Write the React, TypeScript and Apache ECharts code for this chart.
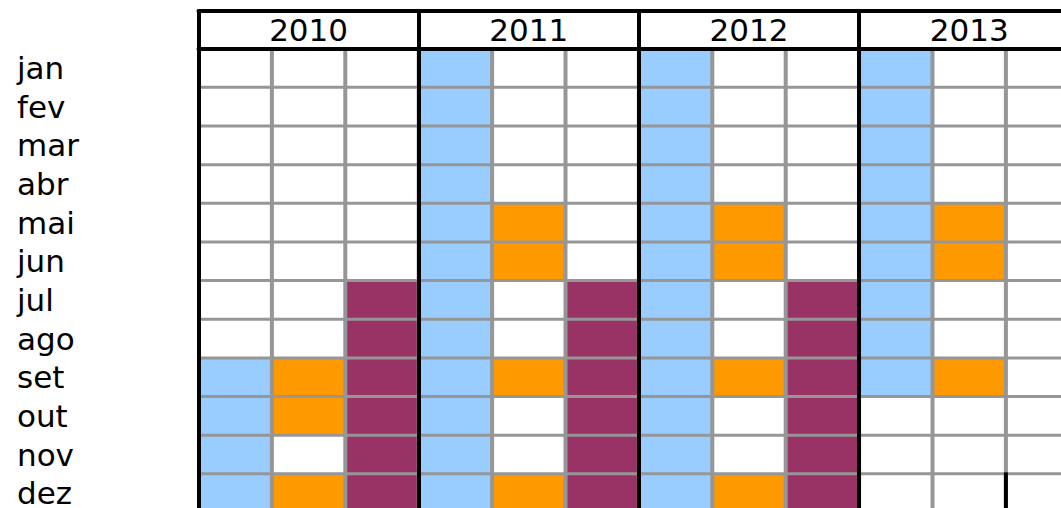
import React, { useEffect, useRef } from "react";
import * as echarts from "echarts";

const months = ["jan", "fev", "mar", "abr", "mai", "jun", "jul", "ago", "set", "out", "nov", "dez"];
const years = ["2010", "2011", "2012", "2013"];
const subColumns = ["a", "b", "c"];

// flags per year (2010..2013), one per month jan..dez
const blueFlags = [
  [0, 0, 0, 0, 0, 0, 0, 0, 1, 1, 1, 1],
  [1, 1, 1, 1, 1, 1, 1, 1, 1, 1, 1, 1],
  [1, 1, 1, 1, 1, 1, 1, 1, 1, 1, 1, 1],
  [1, 1, 1, 1, 1, 1, 1, 1, 1, 0, 0, 0],
];
const orangeFlags = [
  [0, 0, 0, 0, 0, 0, 0, 0, 1, 1, 0, 1],
  [0, 0, 0, 0, 1, 1, 0, 0, 1, 0, 0, 1],
  [0, 0, 0, 0, 1, 1, 0, 0, 1, 0, 0, 1],
  [0, 0, 0, 0, 1, 1, 0, 0, 1, 0, 0, 0],
];
const maroonFlags = [
  [0, 0, 0, 0, 0, 0, 1, 1, 1, 1, 1, 1],
  [0, 0, 0, 0, 0, 0, 1, 1, 1, 1, 1, 1],
  [0, 0, 0, 0, 0, 0, 1, 1, 1, 1, 1, 1],
  [0, 0, 0, 0, 0, 0, 0, 0, 0, 0, 0, 0],
];
// a cell whose right edge is drawn black: [column index, month index]
const blackRightEdges = [[10, 11]];

const palette = ["#FFFFFF", "#99CCFF", "#FF9900", "#993366"];

export default function App() {
  const ref = useRef<HTMLDivElement>(null);

  useEffect(() => {
    if (!ref.current) return;
    const chart = echarts.init(ref.current, null, { renderer: "svg" });

    const columns: string[] = [];
    years.forEach((y) => subColumns.forEach((s) => columns.push(y + s)));

    const cells: number[][] = [];
    const flagSets = [blueFlags, orangeFlags, maroonFlags];
    years.forEach((_, yi) => {
      flagSets.forEach((flags, k) => {
        months.forEach((_, mi) => {
          cells.push([yi * 3 + k, mi, flags[yi][mi] ? k + 1 : 0]);
        });
      });
    });

    const font = "DejaVu Sans";

    chart.setOption({
      animation: false,
      grid: {
        left: 198.5,
        top: 48.7,
        width: 880.8,
        height: 463.8,
        outerBoundsMode: "none",
        containLabel: false,
        show: true,
        backgroundColor: "#969696",
        borderWidth: 0,
      },
      xAxis: [
        {
          type: "category",
          data: columns,
          position: "bottom",
          show: false,
        },
        {
          type: "category",
          data: years,
          position: "top",
          z: 10,
          axisLine: { show: true, lineStyle: { color: "#000", width: 4 } },
          axisTick: {
            show: true,
            interval: 0,
            length: 38.2,
            lineStyle: { color: "#000", width: 4 },
          },
          splitLine: { show: true, interval: 0, lineStyle: { color: "#000", width: 4 } },
          axisLabel: {
            interval: 0,
            margin: 19,
            verticalAlign: "middle",
            fontFamily: font,
            fontSize: 31,
            lineHeight: 26,
            color: "#000",
          },
        },
        {
          type: "category",
          data: years,
          position: "top",
          offset: 38.2,
          z: 10,
          axisLine: { show: true, lineStyle: { color: "#000", width: 4 } },
          axisTick: { show: false },
          axisLabel: { show: false },
          splitLine: { show: false },
        },
      ],
      yAxis: {
        type: "category",
        data: months,
        inverse: true,
        z: 10,
        axisLine: { show: true, lineStyle: { color: "#000", width: 4 } },
        axisTick: { show: false },
        splitLine: { show: false },
        axisLabel: {
          interval: 0,
          align: "left",
          margin: 181.5,
          fontFamily: font,
          fontSize: 31,
          lineHeight: 24,
          color: "#000",
        },
      },
      series: [
        {
          type: "custom",
          xAxisIndex: 0,
          yAxisIndex: 0,
          data: cells,
          renderItem: (params: any, api: any) => {
            const c = api.coord([api.value(0), api.value(1)]);
            const s = api.size([1, 1]);
            return {
              type: "rect",
              shape: {
                x: c[0] - s[0] / 2 + 2,
                y: c[1] - s[1] / 2 + 1.5,
                width: s[0] - 4,
                height: s[1] - 3,
              },
              style: { fill: palette[api.value(2)] },
            };
          },
        },
        {
          type: "custom",
          xAxisIndex: 0,
          yAxisIndex: 0,
          z: 5,
          data: blackRightEdges,
          renderItem: (params: any, api: any) => {
            const c = api.coord([api.value(0), api.value(1)]);
            const s = api.size([1, 1]);
            return {
              type: "line",
              shape: {
                x1: c[0] + s[0] / 2,
                y1: c[1] - s[1] / 2 - 1.5,
                x2: c[0] + s[0] / 2,
                y2: c[1] + s[1] / 2,
              },
              style: { stroke: "#000", lineWidth: 4 },
            };
          },
        },
      ],
    });

    return () => chart.dispose();
  }, []);

  return (
    <div
      ref={ref}
      style={{ position: "absolute", left: 0, top: 0, width: 1061, height: 508, background: "#fff" }}
    />
  );
}
